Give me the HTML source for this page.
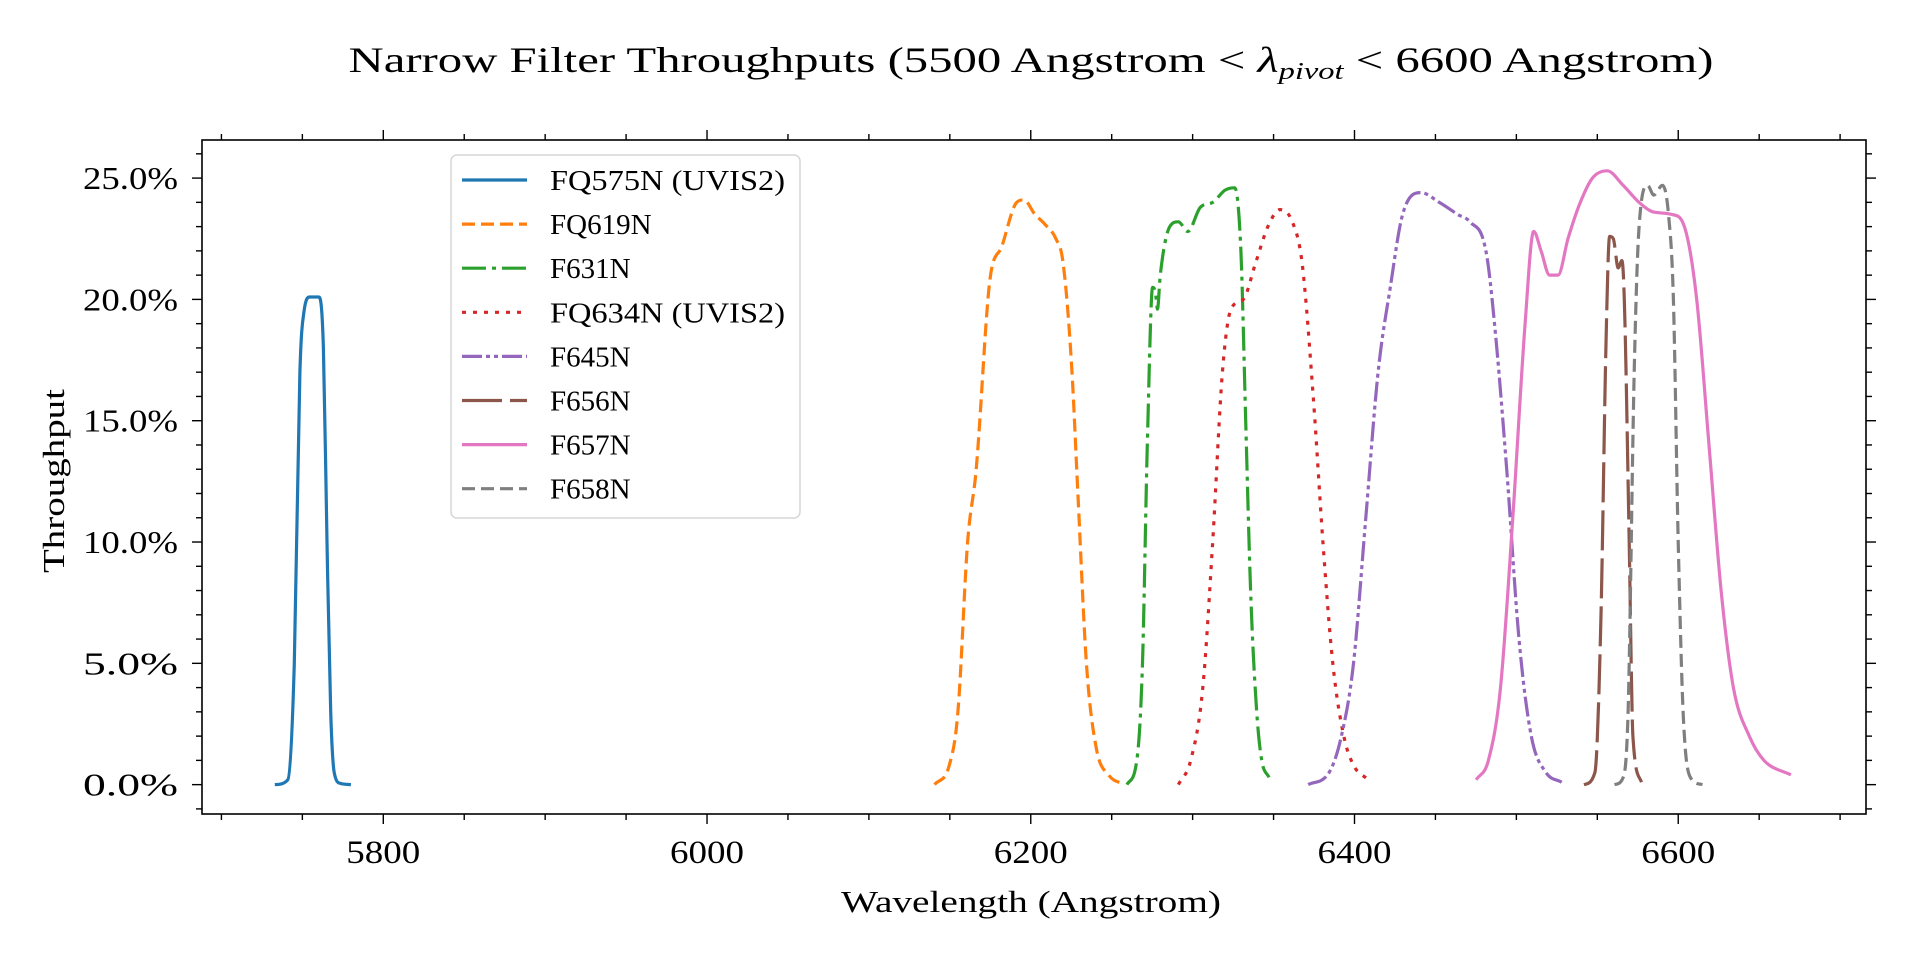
<!DOCTYPE html>
<html><head><meta charset="utf-8">
<style>
html,body{margin:0;padding:0;background:#fff;}
svg{display:block;font-family:"Liberation Serif",serif;}
</style></head>
<body>
<svg id="chart" width="1920" height="960" viewBox="0 0 1920 960" xmlns="http://www.w3.org/2000/svg">
<text x="1031" y="72" font-size="36" text-anchor="middle" textLength="1365" lengthAdjust="spacingAndGlyphs">Narrow Filter Throughputs (5500 Angstrom &lt; <tspan font-style="italic">λ</tspan><tspan font-style="italic" font-size="24" dy="7">pivot</tspan><tspan dy="-7"> &lt; 6600 Angstrom)</tspan></text>
<g id="plot"></g>
<text x="1031" y="912" font-size="31" text-anchor="middle" textLength="380" lengthAdjust="spacingAndGlyphs">Wavelength (Angstrom)</text>
<text x="0" y="0" font-size="31" text-anchor="middle" textLength="184" lengthAdjust="spacingAndGlyphs" transform="translate(64,481) rotate(-90)">Throughput</text>
</svg>
<script>
const names = ["FQ575N (UVIS2)","FQ619N","F631N","FQ634N (UVIS2)","F645N","F656N","F657N","F658N"];
const colors = ["#1f77b4","#ff7f0e","#2ca02c","#d62728","#9467bd","#8c564b","#e377c2","#7f7f7f"];
const xTicks = [5800,6000,6200,6400,6600];
const yTicks = [0,5,10,15,20,25];
const wl0 = [5733,5741,5745,5748.5,5751,5754.6,5760,5763,5765.2,5767.5,5769.7,5773.5,5780];
const tp0 = [0,0.2,5,17,19.5,20.1,20.1,18,10,3,0.5,0.05,0];
const wl1 = [6140.6,6149.7,6155,6161,6166.3,6174.6,6182.2,6191.3,6195.8,6202.6,6208.7,6215.5,6220,6225.3,6229.1,6234.4,6240.5,6248,6257.9];
const tp1 = [0,0.8,3,10,13,20.7,22.2,24,24.1,23.5,23.1,22.5,21.5,17.2,12,5,1.5,0.4,0];
const wl2 = [6259.4,6265.5,6269,6272,6275.3,6277,6278.3,6280,6285.9,6291.2,6297,6304.8,6312.4,6320,6326,6329.8,6332.8,6335.8,6339.6,6342.7,6347.2];
const tp2 = [0,1,5,14,20.5,20.3,19.6,21,23,23.2,22.8,23.8,24,24.5,24.6,22,15,8,3,1,0.3];
const wl3 = [6291.2,6298.8,6306.3,6312.4,6318.4,6323.7,6331.3,6338.9,6346.5,6354,6361.6,6367.6,6374.5,6380.5,6386.6,6393.4,6399.4,6408.5];
const tp3 = [0,1,4,10,17,19.6,20,21.5,23,23.7,23.2,21.5,16,10,5,2,0.8,0.2];
const wl4 = [6371.4,6384.3,6391.9,6399.4,6407,6414.6,6422.1,6429.7,6441,6452.4,6463.8,6471.3,6481.2,6486.5,6494,6501.6,6509.2,6518.3,6528];
const tp4 = [0,0.5,2,5,11,17,20.5,23.5,24.4,24,23.5,23.2,22,19,13,6,2,0.5,0.1];
const wl5 = [6541.7,6548.5,6552.3,6555.3,6557.6,6559.9,6562.9,6565.2,6566.7,6569.7,6572,6577.3];
const tp5 = [0,0.5,7,18,22.6,22.5,21.3,21.6,20,10,2,0.1];
const wl6 = [6475.1,6482.7,6490.2,6497.8,6505.4,6510.7,6515.3,6520.5,6525.8,6531.9,6539.5,6547,6556.1,6566,6575.8,6584.9,6596.3,6603.8,6611.4,6619,6626.5,6634.1,6643.9,6653,6669.6];
const tp6 = [0.2,1,4,11,19,22.8,22,21,21,22.5,24,25,25.3,24.7,24,23.6,23.5,23,20,14,8,4,2,1,0.4];
const wl7 = [6560.6,6566,6569,6572.8,6575.8,6581.1,6584.9,6590.2,6594,6597,6600,6603,6607.5,6615];
const tp7 = [0,0.3,3,17,23,24.7,24.3,24.7,23.5,20,10,3,0.3,0];
const wls = [wl0,wl1,wl2,wl3,wl4,wl5,wl6,wl7];
const tps = [tp0,tp1,tp2,tp3,tp4,tp5,tp6,tp7];

const L=202,R=1866,T=140,B=814;
const xMin=5688,xMax=6716,yMin=-1.21,yMax=26.57;
const sx=v=>L+(v-xMin)/(xMax-xMin)*(R-L);
const sy=v=>B-(v-yMin)/(yMax-yMin)*(B-T);
const dashes=["none","13 6","24 6 4 6","4 7","20 4 4 4 4 4","40 8","none","13 6"];
const NS="http://www.w3.org/2000/svg";
const g=document.getElementById('plot');
function mk(tag,attrs,parent){const e=document.createElementNS(NS,tag);for(const k in attrs)e.setAttribute(k,attrs[k]);(parent||g).appendChild(e);return e;}

function monoPath(xs,ys){
  const n=xs.length;const d=[],m=[];
  for(let i=0;i<n-1;i++)d.push((ys[i+1]-ys[i])/(xs[i+1]-xs[i]));
  m[0]=d[0];m[n-1]=d[n-2];
  for(let i=1;i<n-1;i++){m[i]=(d[i-1]*d[i]<=0)?0:(d[i-1]+d[i])/2;}
  for(let i=0;i<n-1;i++){if(d[i]===0){m[i]=0;m[i+1]=0;continue;}
    const a=m[i]/d[i],b=m[i+1]/d[i],s=a*a+b*b;
    if(s>9){const t=3/Math.sqrt(s);m[i]=t*a*d[i];m[i+1]=t*b*d[i];}}
  let p="M"+xs[0].toFixed(1)+","+ys[0].toFixed(1);
  for(let i=0;i<n-1;i++){const h=(xs[i+1]-xs[i])/3;
    p+="C"+(xs[i]+h).toFixed(1)+","+(ys[i]+m[i]*h).toFixed(1)+" "+(xs[i+1]-h).toFixed(1)+","+(ys[i+1]-m[i+1]*h).toFixed(1)+" "+xs[i+1].toFixed(1)+","+ys[i+1].toFixed(1);}
  return p;
}

for(let i=0;i<names.length;i++){
  const px=wls[i].map(sx),py=tps[i].map(sy);
  const pl=mk('path',{d:monoPath(px,py),fill:'none',stroke:colors[i],'stroke-width':3.2,'stroke-dasharray':dashes[i],'stroke-linejoin':'round'});
  
  
}
const fr=mk('rect',{x:L,y:T,width:R-L,height:B-T,fill:'none',stroke:'#000','stroke-width':1.6});


for(let v=5700;v<=6700;v+=50){
  const x=sx(v);const major=v%200===0;const len=major?10:6;
  mk('line',{x1:x,x2:x,y1:B,y2:B+len,stroke:'#000','stroke-width':1.4});
  mk('line',{x1:x,x2:x,y1:T,y2:T-len,stroke:'#000','stroke-width':1.4});
}
xTicks.forEach(v=>{
  const t=mk('text',{x:sx(v),y:863,'font-size':33,'text-anchor':'middle',textLength:74,lengthAdjust:'spacingAndGlyphs'});
  t.textContent=v;
  
  
});
for(let v=-1;v<=26;v+=1){
  const y=sy(v);const major=v%5===0;const len=major?10:6;
  mk('line',{x1:L,x2:L-len,y1:y,y2:y,stroke:'#000','stroke-width':1.4});
  mk('line',{x1:R,x2:R+len,y1:y,y2:y,stroke:'#000','stroke-width':1.4});
}
yTicks.forEach(v=>{
  const t=mk('text',{x:178,y:sy(v)+11,'font-size':32,'text-anchor':'end',textLength:95,lengthAdjust:'spacingAndGlyphs'});
  t.textContent=v.toFixed(1)+"%";
  
  
});
const lg=mk('g',{});


mk('rect',{x:451,y:155,width:349,height:363,rx:6,fill:'#fff','fill-opacity':0.85,stroke:'#d6d6d6','stroke-width':1.5},lg);
names.forEach((n,i)=>{
  const y=180+i*44.1;
  const e=mk('g',{},lg);
  
  
  mk('line',{x1:462,x2:527,y1:y,y2:y,stroke:colors[i],'stroke-width':3.2,'stroke-dasharray':dashes[i]},e);
  const t=mk('text',{x:550,y:y+10,'font-size':29},e);
  if(n.length>8){t.setAttribute('textLength',235);t.setAttribute('lengthAdjust','spacingAndGlyphs');}
  t.textContent=n;
});
</script>
</body></html>
